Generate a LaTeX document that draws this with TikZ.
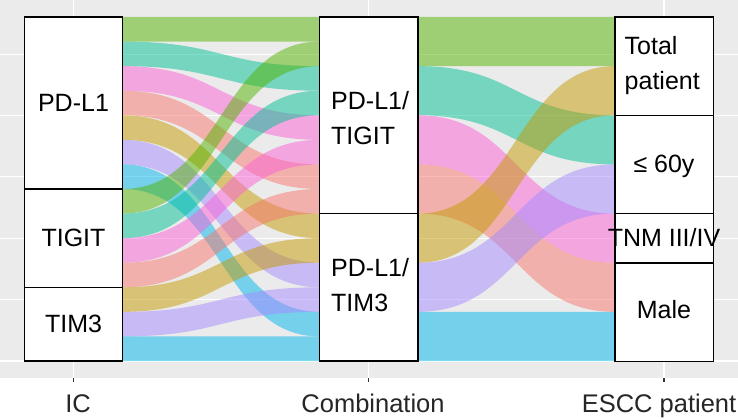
\documentclass[tikz,border=0pt]{standalone}
\usepackage{fontspec}
\setmainfont{Liberation Sans}
\definecolor{panelgray}{HTML}{EBEBEB}
\definecolor{cSal}{HTML}{F8766D}
\definecolor{cGold}{HTML}{C49A00}
\definecolor{cGreen}{HTML}{53B400}
\definecolor{cTeal}{HTML}{00C094}
\definecolor{cCyan}{HTML}{00B6EB}
\definecolor{cLav}{HTML}{A58AFF}
\definecolor{cPink}{HTML}{FB61D7}
\definecolor{axisgray}{HTML}{262626}
\definecolor{tickgray}{HTML}{333333}
\newcommand\flowband[7]{%
  \fill[#7, fill opacity=0.5] (#1,#3) .. controls ({(#1+#2)/2},#3) and ({(#1+#2)/2},#5) .. (#2,#5)
    -- (#2,#6) .. controls ({(#1+#2)/2},#6) and ({(#1+#2)/2},#4) .. (#1,#4) -- cycle;}
\begin{document}
\begin{tikzpicture}[x=1pt,y=-1pt,
  majorgrid/.style={white, line width=1.1pt},
  minorgrid/.style={white, line width=0.55pt},
  stratum/.style={draw=black, fill=white, line width=1.4pt, inner sep=0pt, outer sep=0pt, minimum width=98.4pt},
  slabel/.style={font=\fontsize{25}{30}\selectfont, text=black, inner sep=0pt},
  alabel/.style={font=\fontsize{25.5}{30}\selectfont, text=axisgray, inner sep=0pt, anchor=base},
  tickmark/.style={tickgray, line width=1.1pt}]
\useasboundingbox (0,0) rectangle (738,419);
\fill[white] (0,0) rectangle (738,419);
\fill[panelgray] (0,0) rectangle (738,378);
% grid
\foreach \yy in {53.86,176.71,299.57} \draw[minorgrid] (0,\yy) -- (738,\yy);
\foreach \yy in {115.29,238.14,361} \draw[majorgrid] (0,\yy) -- (738,\yy);
\foreach \xx in {73.5,368.75,664} \draw[majorgrid] (\xx,0) -- (\xx,378);
% flows
\begin{scope}[yshift=-17pt, y=-24.5714pt]
  % IC -> Combination
  \flowband{122.7}{319.55}{0}{1}{0}{1}{cGreen}
  \flowband{122.7}{319.55}{1}{2}{2}{3}{cTeal}
  \flowband{122.7}{319.55}{2}{3}{4}{5}{cPink}
  \flowband{122.7}{319.55}{3}{4}{6}{7}{cSal}
  \flowband{122.7}{319.55}{4}{5}{8}{9}{cGold}
  \flowband{122.7}{319.55}{5}{6}{10}{11}{cLav}
  \flowband{122.7}{319.55}{6}{7}{12}{13}{cCyan}
  \flowband{122.7}{319.55}{7}{8}{1}{2}{cGreen}
  \flowband{122.7}{319.55}{8}{9}{3}{4}{cTeal}
  \flowband{122.7}{319.55}{9}{10}{5}{6}{cPink}
  \flowband{122.7}{319.55}{10}{11}{7}{8}{cSal}
  \flowband{122.7}{319.55}{11}{12}{9}{10}{cGold}
  \flowband{122.7}{319.55}{12}{13}{11}{12}{cLav}
  \flowband{122.7}{319.55}{13}{14}{13}{14}{cCyan}
  % Combination -> ESCC patient
  \flowband{417.95}{614.8}{0}{2}{0}{2}{cGreen}
  \flowband{417.95}{614.8}{2}{4}{4}{6}{cTeal}
  \flowband{417.95}{614.8}{4}{6}{8}{10}{cPink}
  \flowband{417.95}{614.8}{6}{8}{10}{12}{cSal}
  \flowband{417.95}{614.8}{8}{10}{2}{4}{cGold}
  \flowband{417.95}{614.8}{10}{12}{6}{8}{cLav}
  \flowband{417.95}{614.8}{12}{14}{12}{14}{cCyan}
\end{scope}
% strata
\node[stratum, minimum height=172pt] (icpd) at (73.5,103) {};
\node[stratum, minimum height=98.29pt] (ictig) at (73.5,238.14) {};
\node[stratum, minimum height=73.71pt] (ictim) at (73.5,324.14) {};
\node[stratum, minimum height=196.57pt] (cbtig) at (368.75,115.29) {};
\node[stratum, minimum height=147.43pt] (cbtim) at (368.75,287.29) {};
\node[stratum, minimum height=98.29pt] (estot) at (664,66.14) {};
\node[stratum, minimum height=98.29pt] (esage) at (664,164.43) {};
\node[stratum, minimum height=49.14pt] (estnm) at (664,238.14) {};
\node[stratum, minimum height=98.29pt] (esmale) at (664,312.29) {};
% stratum labels
\node[slabel, anchor=base] (lpd) at (73.5,111.7) {PD-L1};
\node[slabel, anchor=base] (ltig) at (73.5,246.7) {TIGIT};
\node[slabel, anchor=base] (ltim) at (73.5,332) {TIM3};
\node[slabel, anchor=base west] (lc1a) at (331,110) {PD-L1/};
\node[slabel, anchor=base west] (lc1b) at (331,145) {TIGIT};
\node[slabel, anchor=base west] (lc2a) at (331,276.5) {PD-L1/};
\node[slabel, anchor=base west] (lc2b) at (331,312) {TIM3};
\node[slabel, anchor=base west] (le1a) at (624.5,55) {Total};
\node[slabel, anchor=base west] (le1b) at (624.5,90) {patient};
\node[slabel, anchor=base] (le2) at (664,173) {≤ 60y};
\node[slabel, anchor=base] (le3) at (664,246.7) {TNM III/IV};
\node[slabel, anchor=base] (le4) at (664,318.5) {Male};
% axis ticks and labels
\foreach \xx in {73.5,368.75,664} \draw[tickmark] (\xx,378) -- (\xx,381.7);
\node[alabel] (axic) at (78,412.5) {IC};
\node[alabel] (axcb) at (373,412.5) {Combination};
\node[alabel] (axes) at (659,412.5) {ESCC patient};
\end{tikzpicture}
\end{document}
